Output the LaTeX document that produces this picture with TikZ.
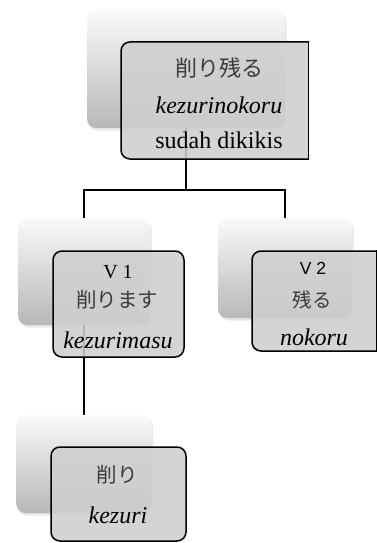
\documentclass[tikz,border=0pt]{standalone}
\usepackage{fontspec}
\setmainfont{Liberation Serif}
\newfontfamily\jpfont{Noto Sans CJK JP}
\newfontfamily\labelsans{Liberation Sans}
\usetikzlibrary{shadows}
\definecolor{cardgray}{HTML}{CFCFCF}
\definecolor{jpgray}{HTML}{3A3A3A}
\begin{document}
\begin{tikzpicture}[x=1pt,y=-1pt,
  backcard/.style={rectangle, rounded corners=9pt, inner sep=0pt,
    top color=black!2, bottom color=black!28, draw=none,
    drop shadow={opacity=0.18, shadow xshift=1.5pt, shadow yshift=-2.5pt}},
  frontcard/.style={rectangle, rounded corners=9pt, inner sep=0pt,
    fill=cardgray, fill opacity=0.88, draw=black, draw opacity=1,
    line width=1.5pt},
  conn/.style={line width=1.4pt, black},
  jp/.style={inner sep=0pt, text=jpgray, font=\jpfont\fontsize{20.5}{24}\selectfont},
  rom/.style={inner sep=0pt, font=\itshape\fontsize{24}{28}\selectfont},
  plain/.style={inner sep=0pt, font=\fontsize{24}{28}\selectfont},
]
\useasboundingbox[fill=white] (0,0) rectangle (377,543);

% background cards
\node[backcard, minimum width=198pt, minimum height=118pt] (b0) at (186,69) {};
\node[backcard, minimum width=132pt, minimum height=107pt] (b1) at (84,271.5) {};
\node[backcard, minimum width=134pt, minimum height=100pt] (b2) at (285,268) {};
\node[backcard, minimum width=135pt, minimum height=98pt] (b3) at (84,464) {};

% tree connectors
\coordinate (split) at (186,190);
\draw[conn] (b0.south) -- (split);
\draw[conn] (split) -| (b1.north);
\draw[conn] (split) -| (b2.north);
\draw[conn] (b1.south) -- (b1.south |- b3.north);

% front cards (the two on the right are cut square at their right side)
\begin{scope}
  \clip (100,30) rectangle (309,170);
  \node[frontcard, minimum width=208pt, minimum height=117pt] (f0) at (225,100.5) {};
\end{scope}
\draw[line width=1.5pt] (308.25,41.25) -- (308.25,159.75);

\node[frontcard, minimum width=131pt, minimum height=106pt] (f1) at (118.5,304) {};

\begin{scope}
  \clip (240,240) rectangle (377,362);
  \node[frontcard, minimum width=144pt, minimum height=100pt] (f2) at (324,301) {};
\end{scope}
\draw[line width=1.5pt] (376.25,250.25) -- (376.25,351.75);

\node[frontcard, minimum width=135pt, minimum height=94pt] (f3) at (118.5,494) {};

% labels of the top card
\node[jp, font=\jpfont\fontsize{22}{26}\selectfont] (t0a) at (219,68) {削り残る};
\node[rom] (t0b) at (219,105) {kezurinokoru};
\node[plain] (t0c) at (219,140) {sudah dikikis};

% labels of V1
\node[plain, font=\fontsize{20}{23}\selectfont] (t1a) at (118,272) {V 1};
\node[jp] (t1b) at (117,300) {削ります};
\node[rom] (t1c) at (118,340) {kezurimasu};

% labels of V2
\node[inner sep=0pt, font=\labelsans\fontsize{17.5}{20}\selectfont] (t2a) at (313,268) {V 2};
\node[jp, font=\jpfont\fontsize{19.5}{23}\selectfont] (t2b) at (312,300) {残る};
\node[rom] (t2c) at (314,337) {nokoru};

% labels of the bottom card
\node[jp] (t3a) at (117,475) {削り};
\node[rom] (t3b) at (118,515) {kezuri};
\end{tikzpicture}
\end{document}
